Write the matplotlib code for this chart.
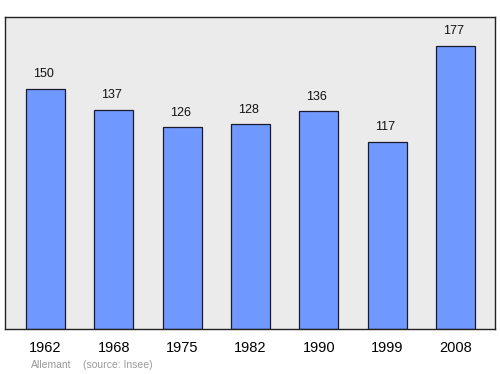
import matplotlib.pyplot as plt

plt.rcParams['font.family'] = ['Liberation Sans', 'DejaVu Sans']

years = ['1962', '1968', '1975', '1982', '1990', '1999', '2008']
population = [150, 137, 126, 128, 136, 117, 177]

fig = plt.figure(figsize=(5, 3.74), dpi=100)
ax = fig.add_axes([5 / 500, 1 - 329 / 374, 490 / 500, 312 / 374])
ax.set_facecolor('#ebebeb')

x = list(range(len(years)))
ax.bar(x, population, width=0.57, color='#7099ff', edgecolor='#1a1a2e', linewidth=0.9, zorder=2)

for xi, v in zip(x, population):
    ax.annotate(str(v), (xi - 0.03, v), xytext=(0, 10.5), textcoords='offset points',
                ha='center', va='center', fontsize=9, color='#111111')

ax.set_xlim(-0.593, 6.58)
ax.set_ylim(0, 195)
ax.set_xticks(x)
ax.set_xticklabels(years, fontsize=10.5)
ax.tick_params(axis='x', length=0, pad=9)
ax.set_yticks([])
for s in ax.spines.values():
    s.set_color('#222222')
    s.set_linewidth(1.0)

fig.text(31 / 500, 1 - 365 / 374, 'Allemant', fontsize=7.5, color='#999999', va='center')
fig.text(83 / 500, 1 - 365 / 374, '(source: Insee)', fontsize=7.5, color='#999999', va='center')

fig.savefig('out.png', dpi=100)
